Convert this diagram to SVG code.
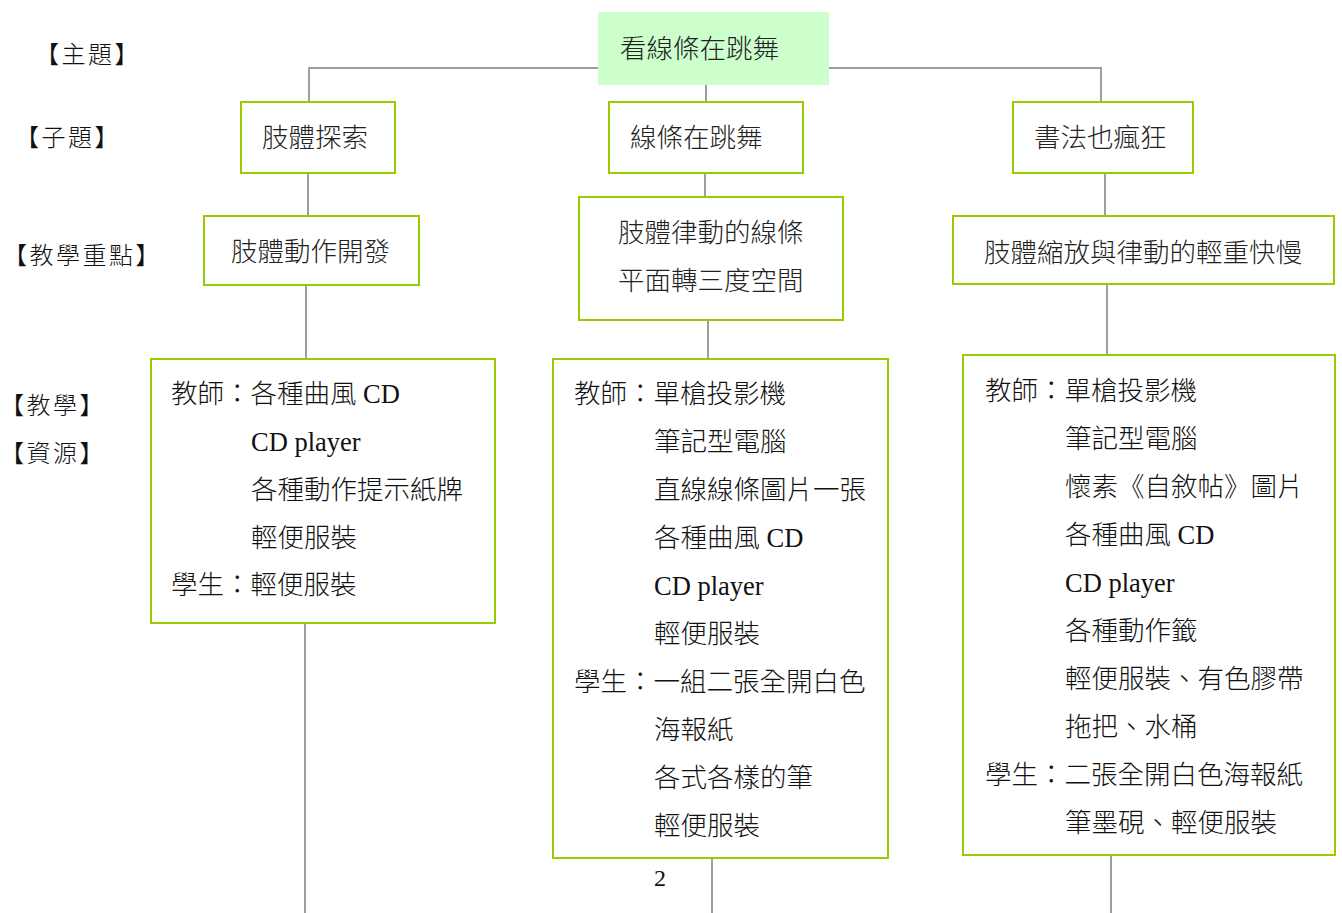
<svg xmlns="http://www.w3.org/2000/svg" width="1342" height="913" viewBox="0 0 1342 913">
<style>
.box{fill:#ffffff;stroke:#99cc00;stroke-width:2}
.topic{fill:#ccffcc;stroke:none}
.conn{stroke:#9e9e9e;stroke-width:2;fill:none}
text{text-spacing-trim:space-all}
.t{font-family:"Noto Sans CJK TC","Noto Sans",sans-serif;font-size:26.5px;fill:#222;font-weight:300}
.lab{font-family:"Liberation Serif","Noto Sans CJK TC",serif;font-size:24px;fill:#111;font-weight:300;letter-spacing:2.5px}
.pg{font-family:"Liberation Serif",serif;font-size:24px;fill:#111}
.r{font-family:"Liberation Serif","Noto Sans CJK TC",serif;font-size:26.5px;fill:#111;font-weight:300}
</style>
<rect width="1342" height="913" fill="#ffffff"/>
<g id="labels">
<text class="lab" x="35" y="63">【主題】</text>
<text class="lab" x="15" y="146">【子題】</text>
<text class="lab" x="3" y="264">【教學重點】</text>
<text class="lab" x="0" y="414">【教學】</text>
<text class="lab" x="0" y="462">【資源】</text>
</g>
<g id="connectors">
<polyline class="conn" points="309,102 309,68 598,68"/>
<polyline class="conn" points="829,68 1101,68 1101,102"/>
<line class="conn" x1="706" y1="85" x2="706" y2="102"/>
<line class="conn" x1="308" y1="173" x2="308" y2="216"/>
<line class="conn" x1="705" y1="173" x2="705" y2="197"/>
<line class="conn" x1="1105" y1="173" x2="1105" y2="216"/>
<line class="conn" x1="306" y1="285" x2="306" y2="359"/>
<line class="conn" x1="708" y1="320" x2="708" y2="359"/>
<line class="conn" x1="1107" y1="284" x2="1107" y2="355"/>
<line class="conn" x1="305" y1="623" x2="305" y2="913"/>
<line class="conn" x1="712" y1="858" x2="712" y2="913"/>
<line class="conn" x1="1111" y1="855" x2="1111" y2="913"/>
</g>
<g id="topic">
<rect class="topic" x="598" y="12" width="231" height="73"/>
<text class="t" x="620" y="58">看線條在跳舞</text>
</g>
<g id="sub1">
<rect class="box" x="241" y="102" width="154" height="71"/>
<text class="t" x="262" y="147">肢體探索</text>
</g>
<g id="sub2">
<rect class="box" x="609" y="102" width="194" height="71"/>
<text class="t" x="630" y="147">線條在跳舞</text>
</g>
<g id="sub3">
<rect class="box" x="1013" y="102" width="180" height="71"/>
<text class="t" x="1034" y="147">書法也瘋狂</text>
</g>
<g id="focus1">
<rect class="box" x="204" y="216" width="215" height="69"/>
<text class="t" x="231" y="261">肢體動作開發</text>
</g>
<g id="focus2">
<rect class="box" x="579" y="197" width="264" height="123"/>
<text class="t" x="618" y="242">肢體律動的線條</text>
<text class="t" x="618" y="290">平面轉三度空間</text>
</g>
<g id="focus3">
<rect class="box" x="953" y="216" width="381" height="68"/>
<text class="t" x="984" y="262">肢體縮放與律動的輕重快慢</text>
</g>
<g id="res1">
<rect class="box" x="151" y="359" width="344" height="264"/>
<text class="r" x="171" y="403">教師：各種曲風 CD</text>
<text class="r" x="251" y="451">CD player</text>
<text class="r" x="251" y="499">各種動作提示紙牌</text>
<text class="r" x="251" y="547">輕便服裝</text>
<text class="r" x="171" y="594">學生：輕便服裝</text>
</g>
<g id="res2">
<rect class="box" x="553" y="359" width="335" height="499"/>
<text class="r" x="574" y="403">教師：單槍投影機</text>
<text class="r" x="654" y="451">筆記型電腦</text>
<text class="r" x="654" y="499">直線線條圖片一張</text>
<text class="r" x="654" y="547">各種曲風 CD</text>
<text class="r" x="654" y="595">CD player</text>
<text class="r" x="654" y="643">輕便服裝</text>
<text class="r" x="574" y="691">學生：一組二張全開白色</text>
<text class="r" x="654" y="739">海報紙</text>
<text class="r" x="654" y="787">各式各樣的筆</text>
<text class="r" x="654" y="835">輕便服裝</text>
</g>
<g id="res3">
<rect class="box" x="963" y="355" width="372" height="500"/>
<text class="r" x="985" y="400">教師：單槍投影機</text>
<text class="r" x="1065" y="448">筆記型電腦</text>
<text class="r" x="1065" y="496">懷素《自敘帖》圖片</text>
<text class="r" x="1065" y="544">各種曲風 CD</text>
<text class="r" x="1065" y="592">CD player</text>
<text class="r" x="1065" y="640">各種動作籤</text>
<text class="r" x="1065" y="688">輕便服裝、有色膠帶</text>
<text class="r" x="1065" y="736">拖把、水桶</text>
<text class="r" x="985" y="784">學生：二張全開白色海報紙</text>
<text class="r" x="1065" y="832">筆墨硯、輕便服裝</text>
</g>
<text class="pg" x="654" y="886">2</text>
</svg>
